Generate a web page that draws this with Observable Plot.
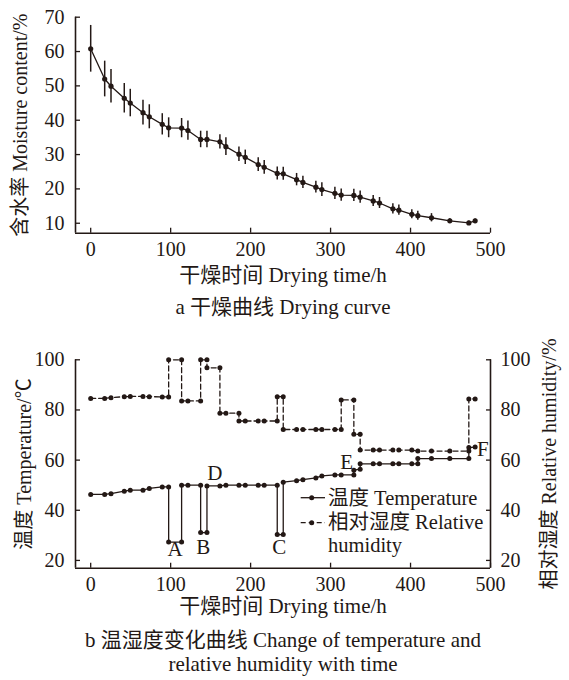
<!DOCTYPE html>
<html><head><meta charset="utf-8">
<script src="https://cdn.jsdelivr.net/npm/d3@7"></script>
<script src="https://cdn.jsdelivr.net/npm/@observablehq/plot@0.6"></script>
<style>
body{margin:0;background:#fff;}
#wrap{position:relative;width:569px;height:680px;font-family:"Liberation Serif","Noto Sans CJK SC",serif;color:#231815;overflow:hidden}
#wrap > svg{position:absolute;left:0;}
.leg{position:absolute;font-size:20.5px;line-height:20px;height:20px;white-space:nowrap;left:328px}
</style></head><body><div id="wrap"></div>
<script>
// ---------- Data: (a) drying curve ----------
const dryTime = [0,17.5,25.4,42,49.5,65.4,73.3,89.5,97.5,113.7,121.6,137.5,145.4,161.6,169.1,185.4,193.3,209.5,217,233.3,240.8,257.5,265.4,281.6,289.1,305.4,313.3,329.1,337,353.3,361.2,377.9,385.4,401.6,409.1,426.2,449.1,472.9,480.8];
const moisture = [60.8,52.0,49.9,46.4,45.0,42.2,41.0,38.8,37.8,37.7,37.0,34.4,34.4,33.7,32.3,30.1,29.2,27.1,26.3,24.5,24.4,22.7,21.9,20.5,19.8,18.7,18.2,18.1,17.6,16.5,15.9,14.2,13.8,12.6,12.2,11.6,10.7,10.1,10.7];
const moistureErr = [6.8,5.2,4.9,4.3,4.0,3.6,3.5,3.1,2.9,2.8,2.8,2.4,2.4,2.1,2.6,2.1,2.1,2.0,2.0,1.9,1.9,1.8,1.8,1.7,2.0,1.8,1.8,1.8,1.8,1.6,1.6,1.5,1.5,1.3,1.3,1.2,0.6,0.5,0.5];

// ---------- Data: (b) temperature & relative humidity ----------
const tempTime = [0,17.5,25.4,42,49.5,65.4,73.3,89.5,97.5,97.5,113.7,113.7,121.6,137.5,137.5,145.4,145.4,161.6,169.1,185.4,193.3,209.5,217,233.3,233.3,240.8,240.8,257.5,265.4,281.6,289.1,305.4,313.3,329.1,329.1,337,337,353.3,361.2,377.9,385.4,401.6,409.1,409.1,426.2,449.1,472.9,472.9,480.8];
const tempValue = [46.3,46.3,46.6,47.6,48.0,48.0,48.7,49.3,49.3,27.3,27.3,50.0,50.0,50.0,31.1,31.1,49.7,49.7,50.0,50.0,50.0,50.0,50.0,50.0,30.3,30.3,51.2,51.8,52.2,52.9,53.7,54.1,54.1,54.1,56.0,56.4,58.5,58.5,58.5,58.5,58.5,58.5,58.5,60.6,60.6,60.6,60.6,65.0,65.2];
const rhTime = [0,17.5,25.4,42,49.5,65.4,73.3,89.5,97.5,97.5,113.7,113.7,121.6,137.5,137.5,145.4,145.4,161.6,161.6,169.1,185.4,185.4,193.3,209.5,217,233.3,233.3,240.8,240.8,257.5,265.4,281.6,289.1,305.4,313.3,313.3,329.1,329.1,337,337,353.3,361.2,377.9,385.4,401.6,409.1,426.2,449.1,472.9,472.9,480.8];
const rhValue = [84.6,84.6,84.9,85.3,85.4,85.4,85.3,85.2,85.2,100,100,83.6,83.6,83.6,100,100,96.8,96.8,78.7,78.7,78.7,75.6,75.6,75.6,75.6,75.6,85.3,85.3,72.2,72.2,72.2,72.2,72.2,72.2,72.2,84.0,84.0,70.3,70.3,64.0,64.0,64.0,64.0,64.0,64.0,63.6,63.6,63.6,63.6,84.4,84.4];

// ---------- Annotations and ticks ----------
const stageLabels = ["A","B","C","D","E","F"];
const stageX = [105.4,140.8,235.8,155.4,320,490.5];
const stageY = [24.3,25.3,25.3,54.7,59.3,64.5];
const xTicks = [0,100,200,300,400,500];
const moistureTicks = [10,20,30,40,50,60,70];
const bTicks = [20,40,60,80,100];

const INK = "#231815";
const FONT = '"Liberation Serif","Noto Sans CJK SC",serif';

const topData = dryTime.map((t,i)=>({t, m:moisture[i], e:moistureErr[i]}));
const tempData = tempTime.map((t,i)=>({t, v:tempValue[i]}));
const rhData = rhTime.map((t,i)=>({t, v:rhValue[i]}));
const stageData = stageLabels.map((s,i)=>({s, x:stageX[i], y:stageY[i]}));

const style = {fontFamily:FONT, fontSize:"20px", color:INK, background:"transparent", overflow:"visible"};
const T = {fontSize:20, fill:INK, textAnchor:"middle", lineAnchor:"middle"};
const H = {...T, fontSize:21};

const chartA = Plot.plot({
  width:569, height:330, marginLeft:75, marginRight:79, marginTop:16.7, marginBottom:97.3,
  style,
  x:{domain:[-19,500], label:null},
  y:{domain:[7.1,70], label:null},
  marks:[
    Plot.ruleX([-19], {stroke:INK, strokeWidth:1.6}),
    Plot.ruleY([7.1], {stroke:INK, strokeWidth:1.6}),
    Plot.axisX({ticks:xTicks, tickSize:-5, tickPadding:14, label:null, fontSize:20, strokeWidth:1.3}),
    Plot.axisY({ticks:moistureTicks, tickSize:-5, tickPadding:16, label:null, fontSize:20, strokeWidth:1.3}),
    Plot.ruleX(topData, {x:"t", y1:d=>d.m-d.e, y2:d=>d.m+d.e, stroke:INK, strokeWidth:1.5}),
    Plot.line(topData, {x:"t", y:"m", stroke:INK, strokeWidth:1.3}),
    Plot.dot(topData, {x:"t", y:"m", r:2.6, fill:INK, stroke:null}),
    Plot.text(["含水率 Moisture content/%"], {...T, frameAnchor:"left", dx:-55, rotate:-90}),
    Plot.text(["干燥时间 Drying time/h"], {...H, frameAnchor:"bottom", dy:42}),
    Plot.text(["a 干燥曲线 Drying curve"], {...H, frameAnchor:"bottom", dy:74})
  ]
});
chartA.style.top = "0px";

const chartB = Plot.plot({
  width:569, height:350, marginLeft:75, marginRight:79, marginTop:29.3, marginBottom:112.3,
  style,
  x:{domain:[-19,500], label:null},
  y:{domain:[16.9,100], label:null},
  marks:[
    Plot.ruleX([-19], {stroke:INK, strokeWidth:1.6}),
    Plot.ruleX([500], {stroke:INK, strokeWidth:1.6}),
    Plot.ruleY([16.9], {stroke:INK, strokeWidth:1.6}),
    Plot.axisX({ticks:xTicks, tickSize:-5, tickPadding:14, label:null, fontSize:20, strokeWidth:1.3}),
    Plot.axisY({ticks:bTicks, anchor:"left", tickSize:-5, tickPadding:16, label:null, fontSize:20, strokeWidth:1.3}),
    Plot.axisY({ticks:bTicks, anchor:"right", tickSize:-5, tickPadding:15, label:null, fontSize:20, strokeWidth:1.3}),
    Plot.line(rhData, {x:"t", y:"v", stroke:INK, strokeWidth:1.3, strokeDasharray:"5,3"}),
    Plot.dot(rhData, {x:"t", y:"v", r:2.5, fill:INK, stroke:null}),
    Plot.line(tempData, {x:"t", y:"v", stroke:INK, strokeWidth:1.3}),
    Plot.dot(tempData, {x:"t", y:"v", r:2.5, fill:INK, stroke:null}),
    Plot.text(stageData, {x:"x", y:"y", text:"s", fontSize:21, fill:INK}),
    Plot.text(["温度 Temperature/℃"], {...T, frameAnchor:"left", dx:-51, rotate:-90}),
    Plot.text(["相对湿度 Relative humidity/%"], {...T, frameAnchor:"right", dx:59, rotate:-90}),
    Plot.text(["干燥时间 Drying time/h"], {...H, frameAnchor:"bottom", dy:38}),
    Plot.text(["b 温湿度变化曲线 Change of temperature and"], {...H, frameAnchor:"bottom", dy:72}),
    Plot.text(["relative humidity with time"], {...H, frameAnchor:"bottom", dy:96})
  ]
});
chartB.style.top = "330px";

const wrap = document.getElementById("wrap");
wrap.appendChild(chartA);
wrap.appendChild(chartB);

// ---------- Legend (overlay) ----------
const ns = "http://www.w3.org/2000/svg";
const legSvg = document.createElementNS(ns, "svg");
legSvg.setAttribute("width", 30); legSvg.setAttribute("height", 40);
legSvg.style.position = "absolute"; legSvg.style.left = "299px"; legSvg.style.top = "488px";
legSvg.innerHTML =
  `<line x1="1.7" x2="26" y1="9.7" y2="9.7" stroke="${INK}" stroke-width="1.3"/>`+
  `<circle cx="12.7" cy="9.7" r="2.5" fill="${INK}"/>`+
  `<line x1="1.7" x2="26" y1="34.7" y2="34.7" stroke="${INK}" stroke-width="1.3" stroke-dasharray="5,3"/>`+
  `<circle cx="12.7" cy="34.7" r="2.5" fill="${INK}"/>`;
wrap.appendChild(legSvg);
const legTexts = [["温度 Temperature", 487.5], ["相对湿度 Relative", 512], ["humidity", 535]];
for (const [t, y] of legTexts) {
  const d = document.createElement("div");
  d.className = "leg"; d.textContent = t; d.style.top = y + "px";
  wrap.appendChild(d);
}
</script>
</body></html>
